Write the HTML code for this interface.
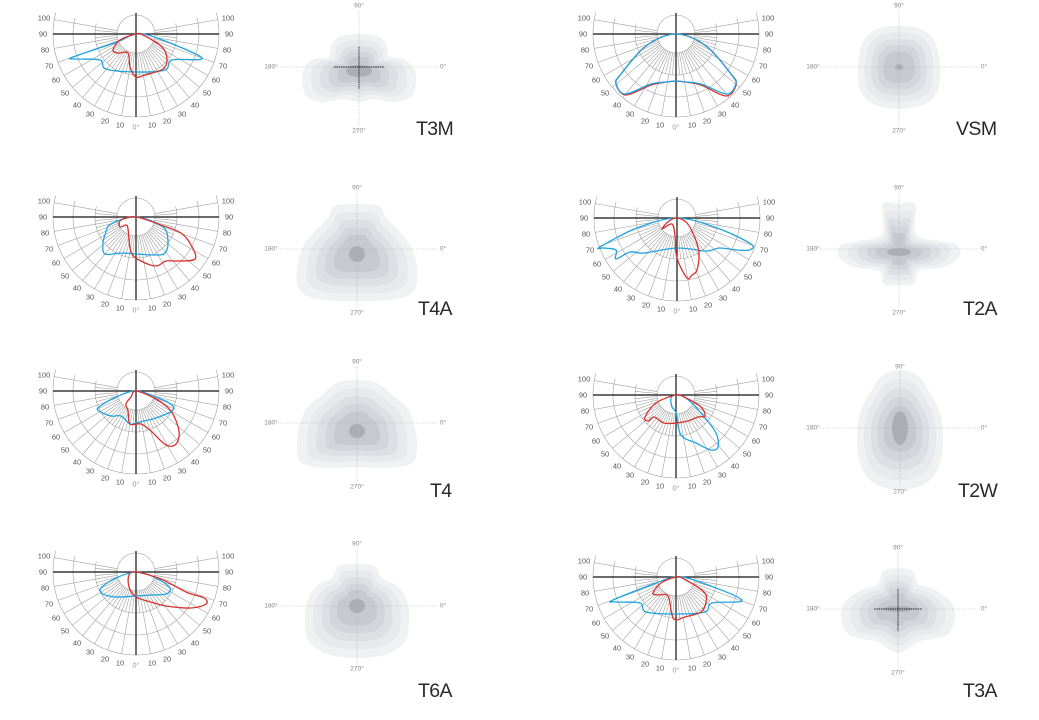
<!DOCTYPE html>
<html><head><meta charset="utf-8"><style>
html,body{margin:0;padding:0;background:#fff;}
svg{display:block;font-family:"Liberation Sans",sans-serif;}
.p text{font-size:7.5px;fill:#555;text-anchor:middle;dominant-baseline:central;}
.p text.z{fill:#999;}
.i text{font-size:6.5px;fill:#888;text-anchor:middle;dominant-baseline:central;}
.big{font-size:19.5px;fill:#2a2a2a;letter-spacing:-0.6px;}
</style></head><body>
<svg id="s" width="1039" height="720" viewBox="0 0 1039 720" xmlns="http://www.w3.org/2000/svg">
<g id="iso"></g>
<g id="grids"></g>
<g id="curves"></g>

<g class="p" transform="translate(136,34)"><text class="z" x="0" y="93">0°</text><text x="-16" y="91">10</text><text x="16" y="91">10</text><text x="-31" y="87">20</text><text x="31" y="87">20</text><text x="-46" y="80">30</text><text x="46" y="80">30</text><text x="-59" y="71">40</text><text x="59" y="71">40</text><text x="-71" y="59">50</text><text x="71" y="59">50</text><text x="-80" y="46">60</text><text x="80" y="46">60</text><text x="-87" y="32">70</text><text x="87" y="32">70</text><text x="-91" y="16">80</text><text x="91" y="16">80</text><text x="-93" y="0">90</text><text x="93" y="0">90</text><text x="-92" y="-16">100</text><text x="92" y="-16">100</text></g>
<g class="p" transform="translate(676,34)"><text class="z" x="0" y="93">0°</text><text x="-16" y="91">10</text><text x="16" y="91">10</text><text x="-31" y="87">20</text><text x="31" y="87">20</text><text x="-46" y="80">30</text><text x="46" y="80">30</text><text x="-59" y="71">40</text><text x="59" y="71">40</text><text x="-71" y="59">50</text><text x="71" y="59">50</text><text x="-80" y="46">60</text><text x="80" y="46">60</text><text x="-87" y="32">70</text><text x="87" y="32">70</text><text x="-91" y="16">80</text><text x="91" y="16">80</text><text x="-93" y="0">90</text><text x="93" y="0">90</text><text x="-92" y="-16">100</text><text x="92" y="-16">100</text></g>
<g class="p" transform="translate(136,217)"><text class="z" x="0" y="93">0°</text><text x="-16" y="91">10</text><text x="16" y="91">10</text><text x="-31" y="87">20</text><text x="31" y="87">20</text><text x="-46" y="80">30</text><text x="46" y="80">30</text><text x="-59" y="71">40</text><text x="59" y="71">40</text><text x="-71" y="59">50</text><text x="71" y="59">50</text><text x="-80" y="46">60</text><text x="80" y="46">60</text><text x="-87" y="32">70</text><text x="87" y="32">70</text><text x="-91" y="16">80</text><text x="91" y="16">80</text><text x="-93" y="0">90</text><text x="93" y="0">90</text><text x="-92" y="-16">100</text><text x="92" y="-16">100</text></g>
<g class="p" transform="translate(677,218)"><text class="z" x="0" y="93">0°</text><text x="-16" y="91">10</text><text x="16" y="91">10</text><text x="-31" y="87">20</text><text x="31" y="87">20</text><text x="-46" y="80">30</text><text x="46" y="80">30</text><text x="-59" y="71">40</text><text x="59" y="71">40</text><text x="-71" y="59">50</text><text x="71" y="59">50</text><text x="-80" y="46">60</text><text x="80" y="46">60</text><text x="-87" y="32">70</text><text x="87" y="32">70</text><text x="-91" y="16">80</text><text x="91" y="16">80</text><text x="-93" y="0">90</text><text x="93" y="0">90</text><text x="-92" y="-16">100</text><text x="92" y="-16">100</text></g>
<g class="p" transform="translate(136,391)"><text class="z" x="0" y="93">0°</text><text x="-16" y="91">10</text><text x="16" y="91">10</text><text x="-31" y="87">20</text><text x="31" y="87">20</text><text x="-46" y="80">30</text><text x="46" y="80">30</text><text x="-59" y="71">40</text><text x="59" y="71">40</text><text x="-71" y="59">50</text><text x="71" y="59">50</text><text x="-80" y="46">60</text><text x="80" y="46">60</text><text x="-87" y="32">70</text><text x="87" y="32">70</text><text x="-91" y="16">80</text><text x="91" y="16">80</text><text x="-93" y="0">90</text><text x="93" y="0">90</text><text x="-92" y="-16">100</text><text x="92" y="-16">100</text></g>
<g class="p" transform="translate(676,395)"><text class="z" x="0" y="93">0°</text><text x="-16" y="91">10</text><text x="16" y="91">10</text><text x="-31" y="87">20</text><text x="31" y="87">20</text><text x="-46" y="80">30</text><text x="46" y="80">30</text><text x="-59" y="71">40</text><text x="59" y="71">40</text><text x="-71" y="59">50</text><text x="71" y="59">50</text><text x="-80" y="46">60</text><text x="80" y="46">60</text><text x="-87" y="32">70</text><text x="87" y="32">70</text><text x="-91" y="16">80</text><text x="91" y="16">80</text><text x="-93" y="0">90</text><text x="93" y="0">90</text><text x="-92" y="-16">100</text><text x="92" y="-16">100</text></g>
<g class="p" transform="translate(136,572)"><text class="z" x="0" y="93">0°</text><text x="-16" y="91">10</text><text x="16" y="91">10</text><text x="-31" y="87">20</text><text x="31" y="87">20</text><text x="-46" y="80">30</text><text x="46" y="80">30</text><text x="-59" y="71">40</text><text x="59" y="71">40</text><text x="-71" y="59">50</text><text x="71" y="59">50</text><text x="-80" y="46">60</text><text x="80" y="46">60</text><text x="-87" y="32">70</text><text x="87" y="32">70</text><text x="-91" y="16">80</text><text x="91" y="16">80</text><text x="-93" y="0">90</text><text x="93" y="0">90</text><text x="-92" y="-16">100</text><text x="92" y="-16">100</text></g>
<g class="p" transform="translate(676,577)"><text class="z" x="0" y="93">0°</text><text x="-16" y="91">10</text><text x="16" y="91">10</text><text x="-31" y="87">20</text><text x="31" y="87">20</text><text x="-46" y="80">30</text><text x="46" y="80">30</text><text x="-59" y="71">40</text><text x="59" y="71">40</text><text x="-71" y="59">50</text><text x="71" y="59">50</text><text x="-80" y="46">60</text><text x="80" y="46">60</text><text x="-87" y="32">70</text><text x="87" y="32">70</text><text x="-91" y="16">80</text><text x="91" y="16">80</text><text x="-93" y="0">90</text><text x="93" y="0">90</text><text x="-92" y="-16">100</text><text x="92" y="-16">100</text></g>

<g class="i" transform="translate(359,67)"><text x="0" y="-61">90°</text><text x="0" y="64">270°</text><text x="-88" y="0">180°</text><text x="84" y="0">0°</text></g>
<g class="i" transform="translate(357,249)"><text x="0" y="-61">90°</text><text x="0" y="64">270°</text><text x="-86" y="0">180°</text><text x="86" y="0">0°</text></g>
<g class="i" transform="translate(357,423)"><text x="0" y="-61">90°</text><text x="0" y="64">270°</text><text x="-86" y="0">180°</text><text x="86" y="0">0°</text></g>
<g class="i" transform="translate(357,606)"><text x="0" y="-62">90°</text><text x="0" y="63">270°</text><text x="-86" y="0">180°</text><text x="86" y="0">0°</text></g>
<g class="i" transform="translate(899,67)"><text x="0" y="-61">90°</text><text x="0" y="64">270°</text><text x="-86" y="0">180°</text><text x="85" y="0">0°</text></g>
<g class="i" transform="translate(899,249)"><text x="0" y="-61">90°</text><text x="0" y="64">270°</text><text x="-86" y="0">180°</text><text x="85" y="0">0°</text></g>
<g class="i" transform="translate(900,428)"><text x="0" y="-61">90°</text><text x="0" y="64">270°</text><text x="-87" y="0">180°</text><text x="84" y="0">0°</text></g>
<g class="i" transform="translate(898,609)"><text x="0" y="-61">90°</text><text x="0" y="64">270°</text><text x="-85" y="0">180°</text><text x="86" y="0">0°</text></g>

<text class="big" x="416" y="135">T3M</text>
<text class="big" x="956" y="135">VSM</text>
<text class="big" x="418" y="315">T4A</text>
<text class="big" x="963" y="315">T2A</text>
<text class="big" x="430" y="497">T4</text>
<text class="big" x="958" y="497">T2W</text>
<text class="big" x="418" y="697">T6A</text>
<text class="big" x="963" y="697">T3A</text>
</svg>
<script>
var NS='http://www.w3.org/2000/svg';
function el(p,t,a){var e=document.createElementNS(NS,t);for(var k in a)e.setAttribute(k,a[k]);p.appendChild(e);return e;}
function smooth(pts){var n=pts.length,d='M'+pts[0][0]+','+pts[0][1];
for(var i=0;i<n;i++){var p0=pts[(i-1+n)%n],p1=pts[i],p2=pts[(i+1)%n],p3=pts[(i+2)%n];
var c1=[p1[0]+(p2[0]-p0[0])/6,p1[1]+(p2[1]-p0[1])/6],c2=[p2[0]-(p3[0]-p1[0])/6,p2[1]-(p3[1]-p1[1])/6];
d+='C'+c1[0].toFixed(2)+','+c1[1].toFixed(2)+' '+c2[0].toFixed(2)+','+c2[1].toFixed(2)+' '+p2[0]+','+p2[1];}
return d+'Z';}
function mirror(h){var r=h.slice();for(var i=h.length-2;i>=1;i--)r.push([-h[i][0],h[i][1]]);return r;}
var G=document.getElementById('grids'),C=document.getElementById('curves'),I=document.getElementById('iso');
function pt(R,a){a=a*Math.PI/180;return [R*Math.sin(a),R*Math.cos(a)];}
function grid(cx,cy){var g=el(G,'g',{transform:'translate('+cx+','+cy+')',stroke:'#9a9a9a','stroke-width':'0.55',fill:'none'});
[41,63,83].forEach(function(R){var d='';for(var a=-105;a<=105;a+=3){var p=pt(R,a);d+=(d?'L':'M')+p[0].toFixed(2)+','+p[1].toFixed(2);}el(g,'path',{d:d});});
for(var a=-100;a<=100;a+=10){var p=pt(19,a),q=pt(83,a);el(g,'line',{x1:p[0],y1:p[1],x2:q[0],y2:q[1]});}
for(var a=-95;a<=95;a+=10){var p=pt(19,a),q=pt(41,a);el(g,'line',{x1:p[0],y1:p[1],x2:q[0],y2:q[1]});}
el(g,'circle',{cx:0,cy:0,r:19,fill:'#fff'});
el(g,'line',{x1:-83,y1:0,x2:83,y2:0,stroke:'#111','stroke-width':'1.2'});
el(g,'line',{x1:0,y1:-21,x2:0,y2:83,stroke:'#111','stroke-width':'1.2'});}
function curve(cx,cy,pts,col){el(C,'path',{d:smooth(pts),transform:'translate('+cx+','+cy+')',fill:'none',stroke:col,'stroke-width':'1.3','stroke-linejoin':'round'});}
var B='#1ea3e0',Rd='#d8312d';
var P=[
[136,34,
 [[0,0],[-19,8],[-63,23],[-61,25],[-36,26],[-30,35],[0,38],[29,36],[36,26],[66,24],[21,4]],
 [[0,0],[-16,6],[-23,16],[-18,19],[-8,19],[-6,33],[0,43],[9,41],[27,35],[31,25],[26,13],[7,1]]],
[676,34,
 [[0,0],[-30,12],[-55,40],[-60,49],[-51,60],[-25,50],[-9,48],[0,47],[9,48],[25,50],[51,60],[60,49],[55,40],[30,12]],
 [[0,0],[-30,12],[-55,40],[-60,50],[-50,61],[-25,51],[-9,48],[0,47],[9,48],[25,51],[50,62],[60,51],[55,40],[30,12]]],
[136,217,
 [[0,0],[-25,7],[-30,15],[-33,26],[-31,37],[-15,36],[0,37],[20,38],[29,36],[32,25],[27,10]],
 [[0,0],[-15,3],[-16,10],[-10,8],[-8,12],[-5,35],[5,44],[20,49],[30,44],[40,44],[59,42],[55,28],[45,16],[25,8]]],
[677,218,
 [[0,0],[-40,10],[-77,29],[-73,30],[-61,32],[-61,41],[-47,34],[-33,35],[0,30],[30,33],[42,30],[60,32],[72,32],[74,26],[40,10]],
 [[0,0],[-8,3],[-15,11],[-5,6],[-2,18],[0,40],[10,60],[15,57],[20,52],[22,35],[18,20],[10,5]]],
[136,391,
 [[0,0],[-20,6],[-37,16],[-37,20],[-25,25],[-15,25],[-6,33],[0,32],[8,30],[20,27],[36,20],[36,14],[20,6]],
 [[0,0],[-5,6],[-10,13],[-8,20],[-6,33],[5,33],[15,40],[30,54],[40,53],[43,40],[35,20],[20,8]]],
[676,395,
 [[0,0],[-5,3],[-4,12],[0,18],[5,40],[20,48],[35,55],[42,52],[40,38],[25,18],[10,3]],
 [[0,0],[-20,8],[-31,22],[-28,26],[-22,22],[-12,28],[0,28],[12,26],[22,22],[29,21],[25,12],[10,3]]],
[136,572,
 [[0,0],[-20,6],[-35,16],[-33,22],[-20,25],[0,24],[15,23],[30,22],[34,16],[20,6]],
 [[0,0],[-7,3],[-7,15],[0,25],[15,30],[30,34],[55,36],[70,32],[68,26],[50,20],[25,7]]],
[676,577,
 [[0,0],[-20,6],[-63,23],[-60,25],[-36,26],[-30,35],[0,37],[29,35],[36,26],[66,23],[21,4]],
 [[0,0],[-15,6],[-23,16],[-18,18],[-8,19],[-4,38],[0,43],[9,40],[25,35],[30,25],[28,15],[8,2]]]
];
P.forEach(function(p,i){grid(p[0],p[1]);
 if(i==1){curve(p[0],p[1],p[3],Rd);curve(p[0],p[1],p[2],B);}else{curve(p[0],p[1],p[2],B);curve(p[0],p[1],p[3],Rd);}});
var cols=['#f0f1f3','#e7e9ec','#dddfe3','#d2d5d9','#c6c9ce','#abafb5'];
function iso(cx,cy,half,f,core,blackX){
 var pts=mirror(half);var g=el(I,'g',{transform:'translate('+cx+','+cy+')'});
 var sc=[1,0.84,0.68,0.53,0.38];
 sc.forEach(function(s,k){var q=pts.map(function(p){return [+(f[0]+(p[0]-f[0])*s).toFixed(2),+(f[1]+(p[1]-f[1])*s).toFixed(2)];});
  el(g,'path',{d:smooth(q),fill:cols[k]});});
 el(g,'ellipse',{cx:core[0],cy:core[1],rx:core[2],ry:core[3],fill:cols[5]});
 el(g,'line',{x1:-86,y1:0,x2:80,y2:0,stroke:'#aaa','stroke-width':'0.6','stroke-dasharray':'1 1.3'});
 el(g,'line',{x1:0,y1:-56,x2:0,y2:58,stroke:'#aaa','stroke-width':'0.6','stroke-dasharray':'1 1.3'});
 if(blackX){el(g,'line',{x1:-blackX[0],y1:0,x2:blackX[0],y2:0,stroke:'#222','stroke-width':'0.9','stroke-dasharray':'1.5 0.8'});
  el(g,'line',{x1:0,y1:-blackX[1],x2:0,y2:blackX[2],stroke:'#222','stroke-width':'0.9','stroke-dasharray':'1.5 0.8'});}
}
iso(359,67,[[0,-33],[20,-30],[28,-20],[30,-10],[45,-8],[55,2],[57,15],[52,30],[35,35],[15,32],[0,35]],[0,4],[0,4,13,6],[25,20,22]);
iso(899,67,[[0,-41],[22,-38],[36,-25],[41,0],[38,25],[24,38],[0,42]],[0,0],[0,0,4,3]);
iso(357,249,[[0,-45],[22,-43],[30,-30],[45,-15],[55,0],[60,20],[58,40],[40,50],[0,52]],[0,5],[0,5,8,8]);
iso(899,249,[[0,-45],[16,-45],[17,-15],[40,-8],[58,-4],[60,8],[45,18],[20,22],[15,35],[0,36]],[0,3],[0,3,12,4]);
iso(357,423,[[0,-43],[20,-40],[35,-28],[50,-15],[58,5],[60,25],[55,40],[30,45],[0,44]],[0,8],[0,8,8,7]);
iso(900,428,[[0,-58],[18,-52],[30,-35],[40,-15],[43,10],[40,35],[30,52],[15,60],[0,62]],[0,0],[0,0,8,17]);
iso(357,606,[[0,-42],[18,-40],[25,-28],[40,-20],[50,-5],[52,15],[48,35],[30,48],[0,52]],[0,0],[0,0,8,7]);
iso(898,609,[[0,-41],[15,-38],[20,-25],[35,-20],[52,-8],[57,8],[50,25],[35,30],[20,33],[0,44]],[0,0],[0,0,14,3],[24,20,22]);
</script>
</body></html>
